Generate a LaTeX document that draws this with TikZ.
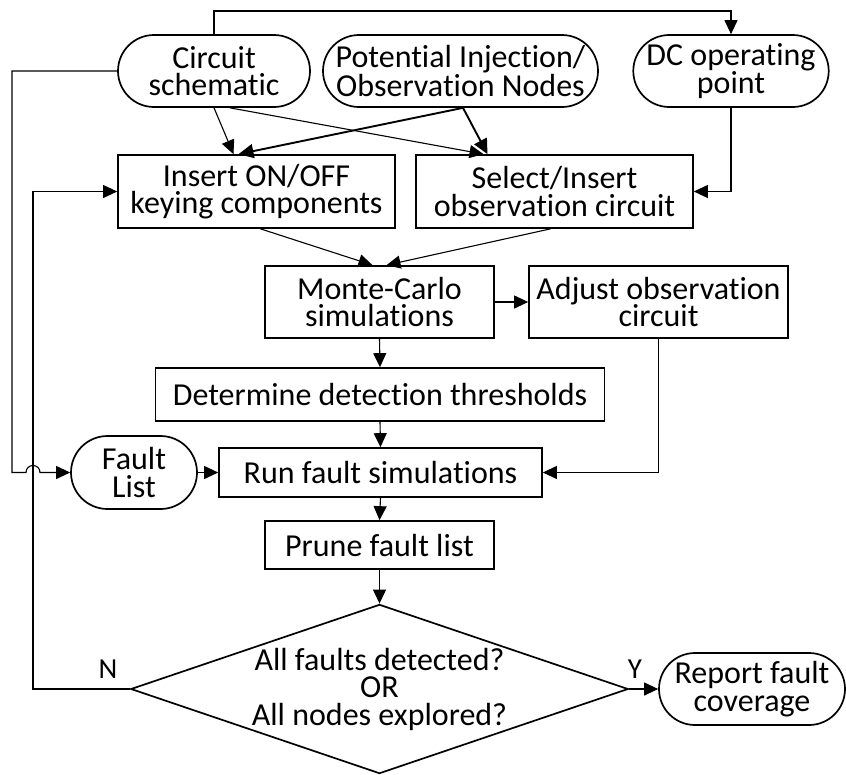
\documentclass[tikz,border=0pt]{standalone}
\usepackage{fontspec}
\setmainfont{Carlito}[Ligatures={NoCommon,NoRare,NoContextual}, RawFeature=-liga, RawFeature=-clig, RawFeature=-calt, RawFeature=-dlig]
\usetikzlibrary{shapes.misc,shapes.geometric,arrows.meta,calc}
\tikzset{
  txt/.style={font=\fontsize{32}{27.5}\selectfont, align=center, inner sep=0pt},
  procbox/.style={txt, draw, line width=1.7pt, rectangle},
  stad/.style={txt, draw, line width=1.7pt, rounded rectangle},
  decbox/.style={txt, draw, line width=1.7pt, diamond, aspect=2.94},
  conn/.style={line width=1.1pt, -{Triangle[length=14pt,width=13pt]}},
  bold conn/.style={line width=1.9pt, -{Triangle[length=15pt,width=14pt]}},
  lbl/.style={font=\fontsize{29}{29}\selectfont, inner sep=0pt}
}
\begin{document}
\begin{tikzpicture}[x=1pt,y=-1pt]
\useasboundingbox (0,0) rectangle (846,774);
% nodes
\node[stad, minimum width=192pt, minimum height=72pt] (cs) at (214,71) {Circuit\\schematic};
\node[stad, minimum width=275pt, minimum height=72pt] (pot) at (460.5,71) {Potent\kern0pt ial Injection/\\Observat\kern0pt ion Nodes};
\node[stad, minimum width=192pt, minimum height=72pt] (dc) at (731,71) {DC operating\\point};
\node[procbox, minimum width=277pt, minimum height=73pt] (ins) at (256.5,191.5) {Insert ON/OFF\\keying components};
\node[procbox, minimum width=277pt, minimum height=73pt] (sel) at (554.5,191.5) {Select/Insert\\observat\kern0pt ion circuit};
\node[procbox, minimum width=229pt, minimum height=72pt] (mc) at (379.5,302) {Monte-Carlo\\simulat\kern0pt ions};
\node[procbox, minimum width=259pt, minimum height=72pt] (adj) at (658.5,302) {Adjust observat\kern0pt ion\\circuit};
\node[procbox, minimum width=449pt, minimum height=53pt] (det) at (380,394.5) {Determine detect\kern0pt ion thresholds};
\node[stad, minimum width=126pt, minimum height=73pt] (fl) at (134,472.5) {Fault\\List};
\node[procbox, minimum width=323pt, minimum height=49pt] (run) at (380.5,472.5) {Run fault simulat\kern0pt ions};
\node[procbox, minimum width=229pt, minimum height=48pt] (pr) at (379.5,545) {Prune fault list};
\node[decbox, minimum width=494pt, minimum height=168pt] (dia) at (379.5,689) {All faults detected?\\OR\\All nodes explored?};
\node[stad, minimum width=186pt, minimum height=72pt] (rep) at (752,689) {Report fault\\coverage};
\node[lbl] (nlab) at (108,669) {N};
\node[lbl] (ylab) at (635,669) {Y};
% rails
\coordinate (toprail) at (0,11);
\coordinate (railA) at (12,0);
\coordinate (railB) at (33,0);
% connectors
\draw[conn] (cs.north) -- (cs.north |- toprail) -| (dc.north);
\draw[conn] (cs.west) -- (railA |- cs.west) -- (railA |- fl.west) -- ($(railB |- fl.west)+(-7,0)$)
  .. controls ($(railB |- fl.west)+(-7,-9.3)$) and ($(railB |- fl.west)+(7,-9.3)$) .. ($(railB |- fl.west)+(7,0)$)
  -- (fl.west);
\draw[conn] (dia.west) -- (railB |- dia.west) -- (railB |- ins.west) -- (ins.west);
\draw[conn] (cs.south) -- ($(ins.north)+(-23,0)$);
\draw[conn] ($(cs.south)+(16,0)$) -- ($(sel.north)+(-71,0)$);
\draw[bold conn] ($(pot.south)+(2.5,0)$) -- ($(ins.north)+(-18,0)$);
\draw[bold conn] ($(pot.south)+(2.5,0)$) -- ($(sel.north)+(-67,0)$);
\draw[conn] ($(ins.south)+(4,0)$) -- ($(mc.north)+(-7,0)$);
\draw[conn] ($(sel.south)+(-4,0)$) -- ($(mc.north)+(7,0)$);
\draw[conn] (mc.east) -- (mc.east -| adj.west);
\draw[conn] (mc.south) -- (det.north);
\draw[conn] (adj.south) |- (run.east);
\draw[conn] (dc.south) |- (sel.east);
\draw[conn] (det.south) -- (run.north);
\draw[conn] (run.south) -- (pr.north);
\draw[conn] (pr.south) -- (dia.north);
\draw[conn] (fl.east) -- (run.west);
\draw[conn] (dia.east) -- (rep.west);
\end{tikzpicture}
\end{document}
